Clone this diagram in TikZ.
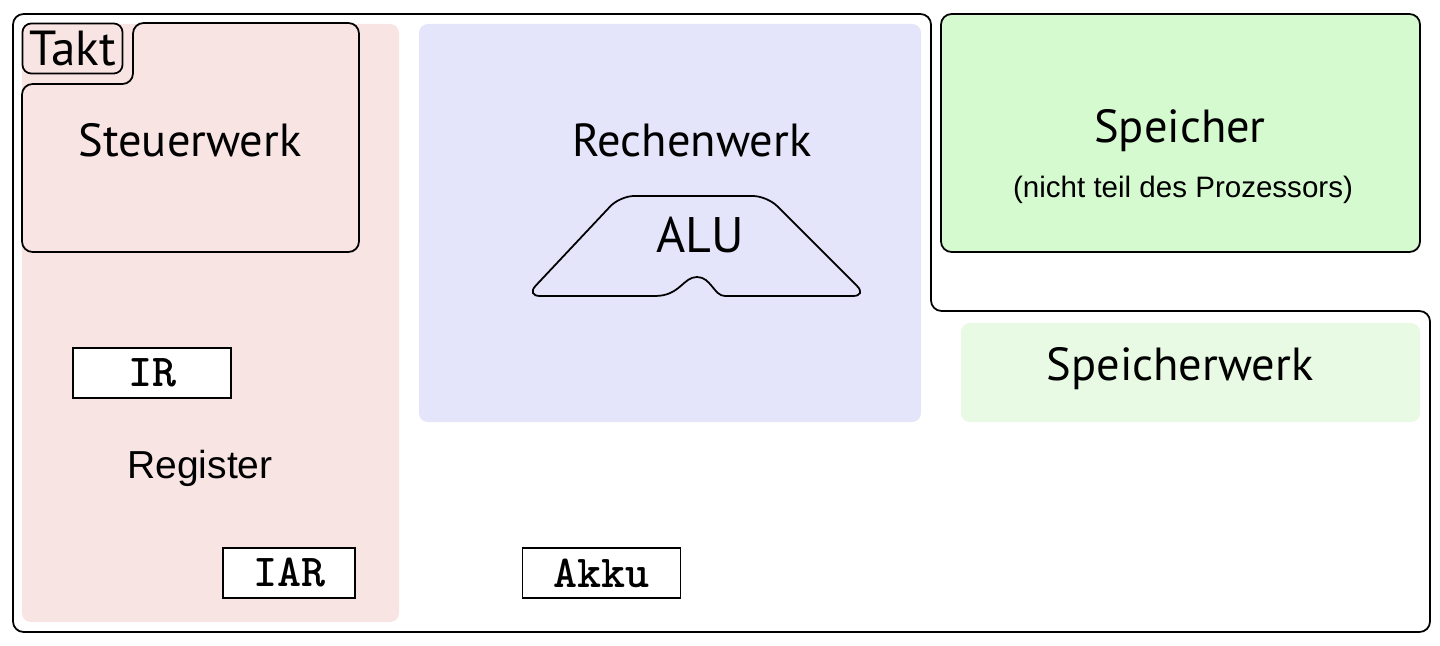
\documentclass[tikz,border=0pt]{standalone}
\usepackage{fontspec}
\usepackage{tikz}
\usetikzlibrary{positioning, calc}
\newfontfamily\unitfont{PT Sans}
\newfontfamily\helvfont{Liberation Sans}
\definecolor{CtrlPink}{RGB}{249, 228, 228}
\definecolor{AluBlue}{RGB}{228, 228, 250}
\definecolor{MemGreen}{RGB}{214, 250, 208}
\definecolor{MemLightGreen}{RGB}{232, 250, 228}

\begin{document}
\begin{tikzpicture}[
    x=0.01cm,
    y=-0.01cm,
    areafill/.style={
        rounded corners=2.5pt,
        draw=none
    },
    outline/.style={
        draw=black,
        line width=0.5pt,
        rounded corners=3pt
    },
    unitlabel/.style={
        font=\unitfont\fontsize{13.2}{16}\selectfont,
        inner sep=0pt
    },
    regbox/.style={
        rectangle,
        draw=black,
        line width=0.5pt,
        fill=white,
        minimum width=1.58cm,
        minimum height=0.5cm,
        inner sep=0pt,
        font=\ttfamily\bfseries\fontsize{13}{16}\selectfont
    }
]
\useasboundingbox (0,0) rectangle (1440,646);
% -------------------------------------------------------------
% BACKGROUND AREAS
% -------------------------------------------------------------
\fill[areafill, fill=CtrlPink] (22,24) rectangle (399,622);
\fill[areafill, fill=AluBlue] (419,24) rectangle (921,422);
\fill[areafill, fill=MemLightGreen] (961,323) rectangle (1420,422);
% -------------------------------------------------------------
% PROCESSOR OUTLINE
% -------------------------------------------------------------
\draw[outline]
(13,14) -- (931,14) -- (931,311) -- (1430,311) -- (1430,632) -- (13,632) -- cycle;
% -------------------------------------------------------------
% STEUERWERK
% -------------------------------------------------------------
\draw[outline]
(22,84) -- (133,84) -- (133,23) -- (359,23) -- (359,252) -- (22,252) -- cycle;
\node[
    draw=black,
    line width=0.5pt,
    rounded corners=2.5pt,
    minimum width=1.0cm,
    minimum height=0.5cm,
    inner sep=0pt,
    unitlabel,
    font=\unitfont\fontsize{14}{17}\selectfont
] (taktNode) at (72.5,48.5) {Takt};
\node[unitlabel] (steuerNode) at (190,140) {Steuerwerk};
% -------------------------------------------------------------
% RECHENWERK
% -------------------------------------------------------------
\node[unitlabel] (rechenNode) at (692,140) {Rechenwerk};
\draw[outline, rounded corners=4pt]
(655,296) -- (526,296) -- (620,196) -- (767,196) -- (867,296) -- (739,296)
[sharp corners]
.. controls (714,296) and (711,277) .. (697,277)
.. controls (683,277) and (680,296) .. (655,296);
\node[unitlabel, font=\unitfont\fontsize{14.2}{17}\selectfont] (aluNode) at (700,235) {ALU};
% -------------------------------------------------------------
% SPEICHER
% -------------------------------------------------------------
\draw[outline, fill=MemGreen] (941,14) rectangle (1420,252);
\node[unitlabel] (speicherNode) at (1180,131) {Speicher};
\node[
    font=\helvfont\fontsize{8.4}{10}\selectfont,
    inner sep=0pt
] (speicherNote) at (1183,190) {(nicht teil des Prozessors)};
\node[unitlabel] (speicherwerkNode) at (1180,369) {Speicherwerk};
% -------------------------------------------------------------
% REGISTER
% -------------------------------------------------------------
\node[regbox] (irNode) at (152,373) {IR};
\node[
    font=\helvfont\fontsize{11.1}{13}\selectfont,
    inner sep=0pt
] (registerNode) at (200,468) {Register};
\node[regbox, minimum width=1.32cm] (iarNode) at (289,573) {IAR};
\node[regbox] (akkuNode) at (601.5,573) {Akku};
\end{tikzpicture}
\end{document}
